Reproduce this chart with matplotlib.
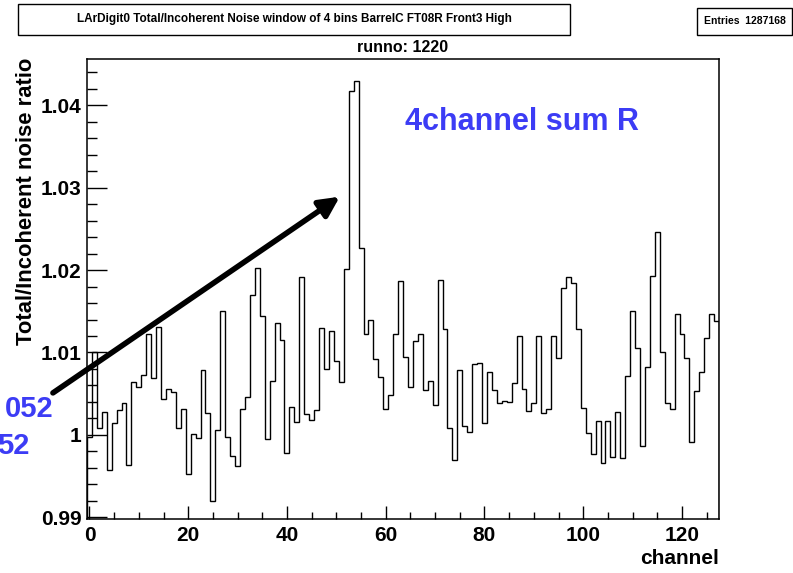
import numpy as np
import matplotlib.pyplot as plt
from matplotlib.patches import Rectangle

plt.rcParams["font.family"] = ["Liberation Sans", "DejaVu Sans"]
plt.rcParams["font.weight"] = "bold"
plt.rcParams["axes.labelweight"] = "bold"

# ratio per channel (128 bins, centred on channel numbers)
ratio = [
    0.9998, 1.0100, 1.0009, 1.0028, 0.9958, 1.0015, 1.0030, 1.0039,
    0.9963, 1.0064, 1.0058, 1.0073, 1.0123, 1.0069, 1.0131, 1.0044,
    1.0056, 1.0052, 1.0009, 1.0031, 0.9953, 1.0001, 0.9996, 1.0079,
    1.0027, 0.9920, 1.0006, 1.0150, 0.9997, 0.9975, 0.9962, 1.0031,
    1.0046, 1.0170, 1.0202, 1.0144, 0.9995, 1.0065, 1.0136, 1.0115,
    0.9978, 1.0034, 1.0016, 1.0192, 1.0025, 1.0018, 1.0030, 1.0130,
    1.0080, 1.0126, 1.0090, 1.0064, 1.0201, 1.0417, 1.0429, 1.0227,
    1.0122, 1.0139, 1.0092, 1.0070, 1.0031, 1.0049, 1.0123, 1.0187,
    1.0094, 1.0058, 1.0114, 1.0123, 1.0055, 1.0065, 1.0036, 1.0188,
    1.0129, 1.0008, 0.9970, 1.0079, 1.0011, 1.0004, 1.0086, 1.0087,
    1.0014, 1.0076, 1.0055, 1.0039, 1.0041, 1.0040, 1.0063, 1.0120,
    1.0056, 1.0029, 1.0039, 1.0120, 1.0027, 1.0032, 1.0120, 1.0093,
    1.0178, 1.0191, 1.0184, 1.0129, 1.0033, 1.0002, 0.9977, 1.0017,
    0.9966, 1.0017, 0.9973, 1.0028, 0.9972, 1.0072, 1.0150, 1.0106,
    0.9987, 1.0082, 1.0193, 1.0246, 1.0100, 1.0039, 1.0031, 1.0147,
    1.0123, 1.0093, 0.9991, 1.0053, 1.0076, 1.0118, 1.0147, 1.0138,
]
n_channels = len(ratio)
bin_edges = np.arange(n_channels + 1) - 0.5

y_ticks = [0.99, 1.00, 1.01, 1.02, 1.03, 1.04]
y_tick_labels = ["0.99", "1", "1.01", "1.02", "1.03", "1.04"]
x_ticks = [0, 20, 40, 60, 80, 100, 120]

title_text = "LArDigit0 Total/Incoherent Noise window of 4 bins BarrelC FT08R Front3 High"
entries_text = "Entries  1287168"
run_text = "runno: 1220"
blue = "#3c3cf5"

fig = plt.figure(figsize=(7.93, 5.73), dpi=100)
ax = fig.add_axes([0.1097, 0.0942, 0.797, 0.8028])

ax.stairs(ratio, bin_edges, color="black", linewidth=1.0)

ax.set_xlim(-0.5, 127.5)
ax.set_ylim(0.9898, 1.0456)
ax.set_xticks(x_ticks)
ax.set_xticks(np.arange(0, 128, 5), minor=True)
ax.set_yticks(y_ticks, y_tick_labels)
ax.set_yticks(np.arange(0.99, 1.0456, 0.002), minor=True)

ax.tick_params(axis="both", which="both", direction="in", top=False, right=False,
               labelsize=15, width=1)
ax.tick_params(axis="y", which="major", length=14.4, pad=4)
ax.tick_params(axis="y", which="minor", length=7.2)
ax.tick_params(axis="x", which="major", length=9.4, pad=5)
ax.tick_params(axis="x", which="minor", length=5)
for spine in ax.spines.values():
    spine.set_linewidth(1.1)

# axis titles placed ROOT-style: y title at top, x title at right end
ax.text(-0.0955, 1.002, "Total/Incoherent noise ratio", transform=ax.transAxes,
        rotation=90, ha="center", va="top", fontsize=15.8)
ax.set_xlabel("channel", fontsize=15, loc="right")
ax.xaxis.set_label_coords(1.0, -0.065)

ax.text(0.5, 1.026, run_text, transform=ax.transAxes, ha="center", va="center",
        fontsize=11.5)

ax.text(0.503, 0.863, "4channel sum R", transform=ax.transAxes, ha="left",
        va="center", fontsize=22, color=blue)

ax.annotate("", xy=(50.7, 1.0289), xytext=(-7.4, 1.0051),
            arrowprops=dict(arrowstyle="-|>,head_length=0.6,head_width=0.3",
                            lw=4, color="black", mutation_scale=20,
                            shrinkA=0, shrinkB=0),
            annotation_clip=False)

# cut-off blue labels on the left margin
fig.text(0.068, 0.286, "052", ha="right", va="center", fontsize=21, color=blue)
fig.text(0.0366, 0.2216, "52", ha="right", va="center", fontsize=21, color=blue)

# title and stats boxes
fig.patches.append(Rectangle((0.0227, 0.939), 0.6963, 0.0541, transform=fig.transFigure,
                             facecolor="white", edgecolor="black", linewidth=1.0))
fig.text(0.371, 0.966, title_text, ha="center", va="center", fontsize=8.5)
fig.patches.append(Rectangle((0.879, 0.939), 0.1198, 0.0471, transform=fig.transFigure,
                             facecolor="white", edgecolor="black", linewidth=1.0))
fig.text(0.939, 0.9625, entries_text, ha="center", va="center", fontsize=7.5)

fig.savefig("out.png", dpi=100)
